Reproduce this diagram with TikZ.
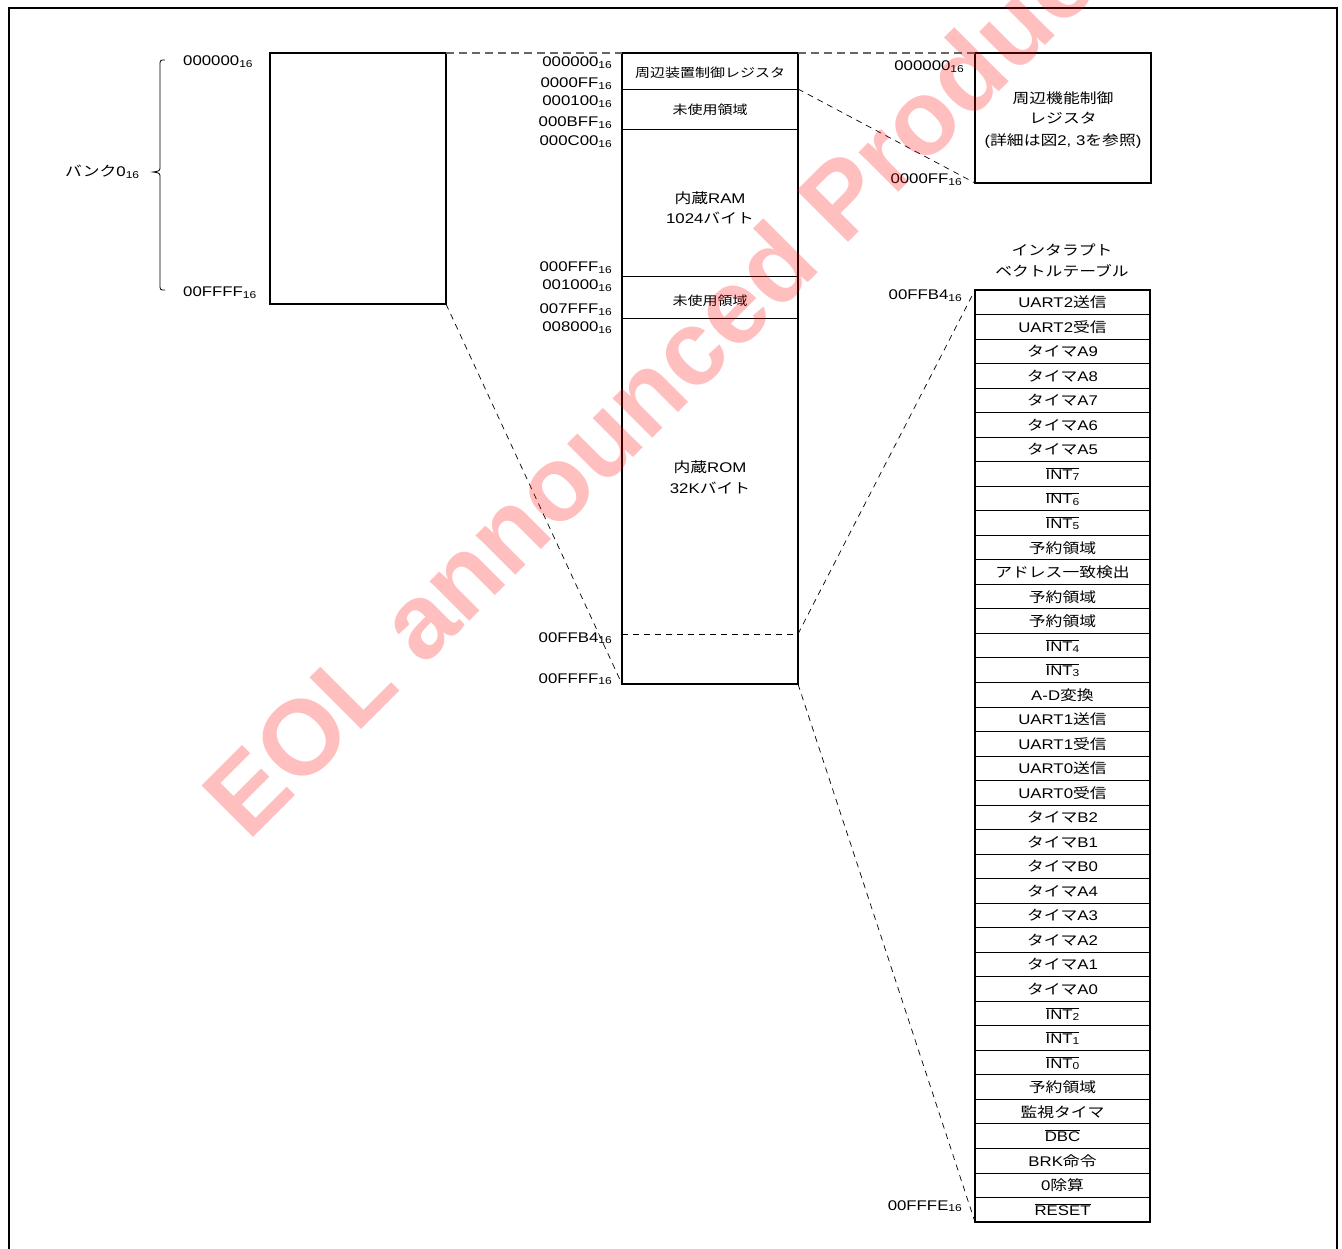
\documentclass[tikz,border=0pt]{standalone}
\usepackage{fontspec}
\setmainfont[FakeStretch=1.2]{Liberation Sans}
\newfontfamily\jpf[FakeStretch=1.2]{Noto Sans CJK JP}
\newfontfamily\wmf{Liberation Sans}
\newcommand\J[1]{{\jpf #1}}
\newcommand\sbs[1]{\raisebox{-1.2pt}{\fontsize{10}{10}\selectfont #1}}
\newcommand\hx[1]{#1\sbs{16}}
\newcommand\ovl[1]{$\overline{\hbox{#1}}$}
\tikzset{
  box/.style={draw, line width=1.8pt, anchor=north west, inner sep=0pt, outer sep=0pt},
  txt/.style={inner sep=0pt, anchor=base, font=\fontsize{14}{16}\selectfont},
  small/.style={inner sep=0pt, anchor=base, font=\fontsize{12.5}{15}\selectfont},
  addr/.style={inner sep=0pt, anchor=base east, font=\fontsize{14}{16}\selectfont},
  addrw/.style={inner sep=0pt, anchor=base west, font=\fontsize{14}{16}\selectfont},
  sepl/.style={line width=0.8pt},
  conn/.style={dash pattern=on 6pt off 5pt, line width=0.7pt},
  gconn/.style={dash pattern=on 8pt off 5pt, line width=1.3pt, black!60},
}
\begin{document}
\begin{tikzpicture}[x=1pt,y=-1pt]
\useasboundingbox (0,0) rectangle (1342,1249);
% outer frame
\draw[line width=2pt] (8.5,1262) -- (8.5,8) -- (1336.5,8) -- (1336.5,1262);

% left bank box
\node[box, minimum width=176, minimum height=251] (lb) at (270,53) {};
\node[addrw] (la0) at (183,66) {\hx{000000}};
\node[addrw] (la1) at (183,297) {\hx{00FFFF}};
\draw[line width=0.8pt] (165,60) .. controls (160,60) .. (160,66) -- (160,166)
  .. controls (160,171) .. (153,172) .. controls (160,173) .. (160,178) -- (160,284)
  .. controls (160,290) .. (165,290);
\node[addrw] (bank) at (65,177) {\J{バンク}0\sbs{16}};

% middle memory map
\node[box, minimum width=176, minimum height=631] (mb) at (622,53) {};
\coordinate (m1w) at (622,89);  \coordinate (m1e) at (798,89);
\coordinate (m2w) at (622,129); \coordinate (m2e) at (798,129);
\coordinate (m3w) at (622,276); \coordinate (m3e) at (798,276);
\coordinate (m4w) at (622,318); \coordinate (m4e) at (798,318);
\coordinate (m5w) at (622,634); \coordinate (m5e) at (798,634);
\draw[sepl] (m1w) -- (m1e);
\draw[sepl] (m2w) -- (m2e);
\draw[sepl] (m3w) -- (m3e);
\draw[sepl] (m4w) -- (m4e);
\draw[conn, line width=0.8pt] (m5w) -- (m5e);
\node[small] (t1) at (710,78) {\J{周辺装置制御レジスタ}};
\node[small] (t2) at (710,115) {\J{未使用領域}};
\node[txt] (t3) at (710,204) {\J{内蔵}RAM};
\node[txt] (t4) at (710,224) {1024\J{バイト}};
\node[small] (t5) at (710,306) {\J{未使用領域}};
\node[txt] (t6) at (710,472) {\J{内蔵}ROM};
\node[txt] (t7) at (710,493) {32K\J{バイト}};

\node[addr] (ma0) at (612,67) {\hx{000000}};
\node[addr] (ma1) at (612,88) {\hx{0000FF}};
\node[addr] (ma2) at (612,106) {\hx{000100}};
\node[addr] (ma3) at (612,127) {\hx{000BFF}};
\node[addr] (ma4) at (612,146) {\hx{000C00}};
\node[addr] (ma5) at (612,272) {\hx{000FFF}};
\node[addr] (ma6) at (612,290) {\hx{001000}};
\node[addr] (ma7) at (612,314) {\hx{007FFF}};
\node[addr] (ma8) at (612,332) {\hx{008000}};
\node[addr] (ma9) at (612,642) {\hx{00FFB4}};
\node[addr] (ma10) at (612,683) {\hx{00FFFF}};

% peripheral register box
\node[box, minimum width=176, minimum height=130] (pr) at (975,53) {};
\node[txt] (p1) at (1063,104) {\J{周辺機能制御}};
\node[txt] (p2) at (1063,124) {\J{レジスタ}};
\node[txt] (p3) at (1063,146) {(\J{詳細は図}2, 3\J{を参照})};
\node[addr] (pa0) at (964,71) {\hx{000000}};
\node[addr] (pa1) at (962,184) {\hx{0000FF}};

% interrupt vector table
\node[txt] (vh1) at (1062,256) {\J{インタラプト}};
\node[txt] (vh2) at (1062,277) {\J{ベクトルテーブル}};
\node[box, minimum width=175, minimum height=932] (vt) at (975,290) {};
\foreach \k in {1,...,37}
  \draw[sepl] (975,{290+\k*24.526}) -- (1150,{290+\k*24.526});
\foreach \t [count=\i from 0] in {
  UART2\J{送信}, UART2\J{受信},
  \J{タイマ}A9, \J{タイマ}A8, \J{タイマ}A7, \J{タイマ}A6, \J{タイマ}A5,
  \ovl{INT\sbs{7}}, \ovl{INT\sbs{6}}, \ovl{INT\sbs{5}},
  \J{予約領域}, \J{アドレス一致検出}, \J{予約領域}, \J{予約領域},
  \ovl{INT\sbs{4}}, \ovl{INT\sbs{3}},
  A-D\J{変換}, UART1\J{送信}, UART1\J{受信}, UART0\J{送信}, UART0\J{受信},
  \J{タイマ}B2, \J{タイマ}B1, \J{タイマ}B0,
  \J{タイマ}A4, \J{タイマ}A3, \J{タイマ}A2, \J{タイマ}A1, \J{タイマ}A0,
  \ovl{INT\sbs{2}}, \ovl{INT\sbs{1}}, \ovl{INT\sbs{0}},
  \J{予約領域}, \J{監視タイマ}, \ovl{DBC}, BRK\J{命令}, 0\J{除算}, \ovl{RESET}}
  \node[txt] (v\i) at (1062.5,{290+(\i+0.5)*24.526+5.5}) {\t};
\node[addr] (va0) at (962,300) {\hx{00FFB4}};
\node[addr] (va1) at (962,1210) {\hx{00FFFE}};

% connectors
\draw[gconn] (lb.north east) -- (mb.north west);
\draw[gconn] (mb.north east) -- (pr.north west);
\draw[conn] (m1e) -- (pr.south west);
\draw[conn] (lb.south east) -- (mb.south west);
\draw[conn] (m5e) -- (vt.north west);
\draw[conn] (mb.south east) -- (vt.south west);

% watermark
\node[font=\wmf\bfseries\fontsize{106}{106}\selectfont, text=red, text opacity=0.25,
  rotate=45, anchor=base west, inner sep=0pt] (wm) at (248,843) {EOL announced Product};
\end{tikzpicture}
\end{document}
